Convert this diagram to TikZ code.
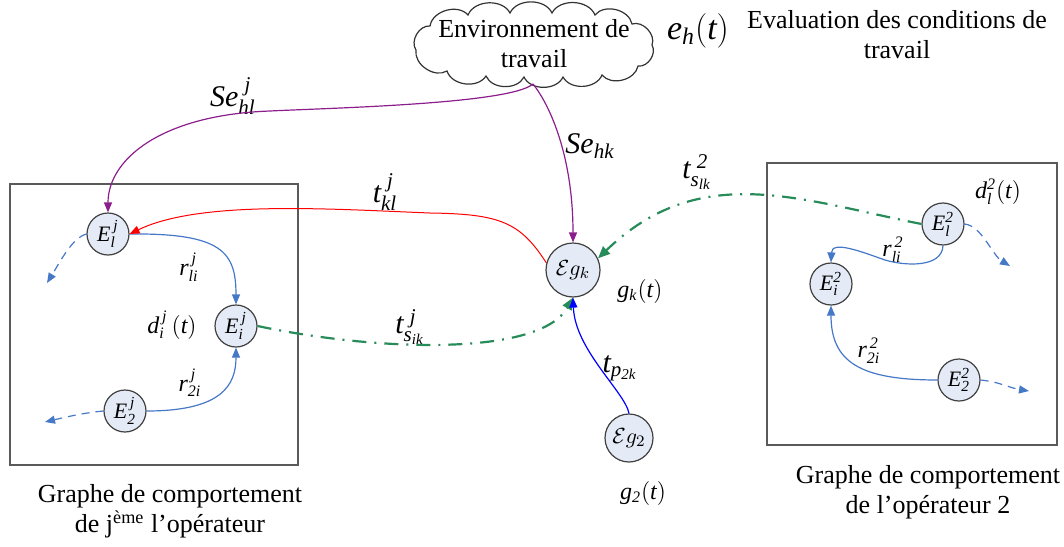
\documentclass[tikz,border=0pt]{standalone}
\usepackage{fontspec}
\setmainfont{Liberation Serif}
\usetikzlibrary{arrows.meta}
\definecolor{nfill}{RGB}{228,235,246}
\definecolor{bl}{RGB}{70,120,200}
\definecolor{pu}{RGB}{140,30,140}
\definecolor{gr}{RGB}{40,140,90}
\definecolor{bx}{RGB}{90,90,90}
\begin{document}
\begin{tikzpicture}[x=0.5pt,y=-0.5pt,
  stn/.style={circle,draw=black!75,fill=nfill,line width=0.6pt,minimum size=21pt,inner sep=0pt,font=\fontsize{11}{12}\selectfont},
  gn/.style={stn,minimum size=27pt},
  frame/.style={draw=bx,line width=1pt},
  lab/.style={font=\fontsize{12}{13}\selectfont,inner sep=1pt},
  blab/.style={font=\fontsize{15}{16}\selectfont,inner sep=1pt},
  txt/.style={font=\fontsize{13}{15}\selectfont,align=center,inner sep=0pt},
  cloudline/.style={draw=black!80,line width=0.6pt,fill=white},
  barr/.style={draw=bl,line width=0.6pt,-{Triangle[length=5pt,width=4pt]}},
  darr/.style={barr,dashed,dash pattern=on 4pt off 3pt},
  parr/.style={draw=pu,line width=0.6pt,-{Triangle[length=5pt,width=4pt]}},
  rarr/.style={draw=red,line width=0.5pt,-{Triangle[length=5pt,width=4pt]}},
  garr/.style={draw=gr,line width=1.1pt,dash pattern=on 7pt off 4pt on 1pt off 4pt,-{Triangle[length=6pt,width=5pt]}},
  narr/.style={draw=blue,line width=0.6pt,-{Triangle[length=5pt,width=4pt]}}]
\useasboundingbox (0,0) rectangle (1064,546);

% frames
\draw[frame] (10,184) rectangle (298,465);
\draw[frame] (767,163) rectangle (1057,445);

% cloud
\draw[cloudline] (416,50) to[bend left=65] (430,26) to[bend left=65] (468,15) to[bend left=65] (510,13)
  to[bend left=65] (552,13) to[bend left=65] (595,15) to[bend left=65] (632,24) to[bend left=65] (652,45)
  to[bend left=65] (638,66) to[bend left=65] (602,75) to[bend left=65] (563,77) to[bend left=65] (524,77)
  to[bend left=65] (486,76) to[bend left=65] (447,71) to[bend left=65] (416,50) -- cycle;
\node[txt] (env) at (534,44) {Environnement de\\travail};
\coordinate (envb) at (533,84);
\node[blab,font=\fontsize{17}{18}\selectfont] (eh) at (698,31) {$\mathit{e_h}(\mathit{t})$};
\node[txt] (eval) at (897,35) {Evaluation des conditions de\\travail};

% left graph nodes
\node[stn] (El) at (108,234) {$\mathit{E_l^{\,j}}$};
\node[stn] (Ei) at (236,326) {$\mathit{E_i^{\,j}}$};
\node[stn] (E2) at (125,411) {$\mathit{E_2^{\,j}}$};
\node[lab] (di) at (172,325) {$\mathit{d_i^{\,j}}\,(\mathit{t})$};
\node[lab] (rli) at (189,267) {$\mathit{r_{li}^{\,j}}$};
\node[lab] (r2i) at (190,383) {$\mathit{r_{2i}^{\,j}}$};
\coordinate (dl1) at (47,283);
\coordinate (dl2) at (45,422);

% center nodes
\node[gn] (Egk) at (573,270) {$\mathcal{E}g_k$};
\node[stn,minimum size=24pt] (Eg2) at (629,438) {$\mathcal{E}g_2$};
\node[lab] (gk) at (640,291) {$\mathit{g_k}(\mathit{t})$};
\node[lab] (g2) at (643,493) {$\mathit{g_2}(\mathit{t})$};

% right graph nodes
\node[stn] (El2) at (943,224) {$\mathit{E_l^{2}}$};
\node[stn] (Ei2) at (831,284) {$\mathit{E_i^{2}}$};
\node[stn] (E22) at (959,380) {$\mathit{E_2^{2}}$};
\node[lab] (dl2t) at (998,192) {$\mathit{d_l^{2}}(\mathit{t})$};
\node[lab] (rli2) at (893,250) {$\mathit{r_{li}^{\,2}}$};
\node[lab] (r2i2) at (869,351) {$\mathit{r_{2i}^{\,2}}$};
\coordinate (dr1) at (1010,266);
\coordinate (dr2) at (1029,391);

% connector labels
\node[blab] (she) at (233,96) {$\mathit{Se_{hl}^{\;j}}$};
\node[blab] (shk) at (590,146) {$\mathit{Se_{hk}}$};
\node[blab] (tkl) at (385,192) {$\mathit{t_{kl}^{\;j}}$};
\node[blab] (tsik) at (410,327) {$\mathit{t_{s_{ik}}^{\;j}}$};
\node[blab] (tslk) at (697,172) {$\mathit{t_{s_{lk}}^{\;2}}$};
\node[blab] (tp) at (620,368) {$\mathit{t_{p_{2k}}}$};

% bottom captions
\node[txt] (capl) at (170,511) {Graphe de comportement\\de j\textsuperscript{ème} l’opérateur};
\node[txt] (capr) at (928,492) {Graphe de comportement\\de l’opérateur 2};

% left graph connectors
\draw[barr] (El.east) .. controls (222,233) and (236,252) .. (Ei.north);
\draw[barr] (E2.east) .. controls (222,411) and (236,385) .. (Ei.south);
\draw[darr] (El.west) .. controls (72,238) and (60,262) .. (dl1);
\draw[darr] (E2.west) .. controls (82,413) and (62,418) .. (dl2);

% right graph connectors
\draw[barr] (El2.south) .. controls (942,268) and (905,266) .. (885,260) .. controls (862,252) and (832,240) .. (Ei2.north);
\draw[barr] (E22.west) .. controls (860,380) and (831,362) .. (Ei2.south);
\draw[darr] (El2.east) .. controls (982,226) and (992,255) .. (dr1);
\draw[darr] (E22.east) .. controls (1000,382) and (1010,388) .. (dr2);

% environment connectors
\draw[parr] (envb) .. controls (510,104) and (330,108) .. (270,111) .. controls (160,115) and (108,160) .. (El.north);
\draw[parr] (envb) .. controls (552,108) and (573,160) .. (Egk.north);

% red
\draw[rarr] (Egk.165) .. controls (520,222) and (500,214) .. (430,213) .. controls (330,209) and (200,200) .. (El.east);

% green
\draw[garr] (Ei.east) .. controls (380,352) and (540,356) .. (Egk.south);
\draw[garr] (El2.west) .. controls (800,200) and (700,160) .. (Egk.25);

% blue from Eg2
\draw[narr] (Eg2.north) .. controls (625,392) and (575,350) .. (Egk.south);
\end{tikzpicture}
\end{document}
